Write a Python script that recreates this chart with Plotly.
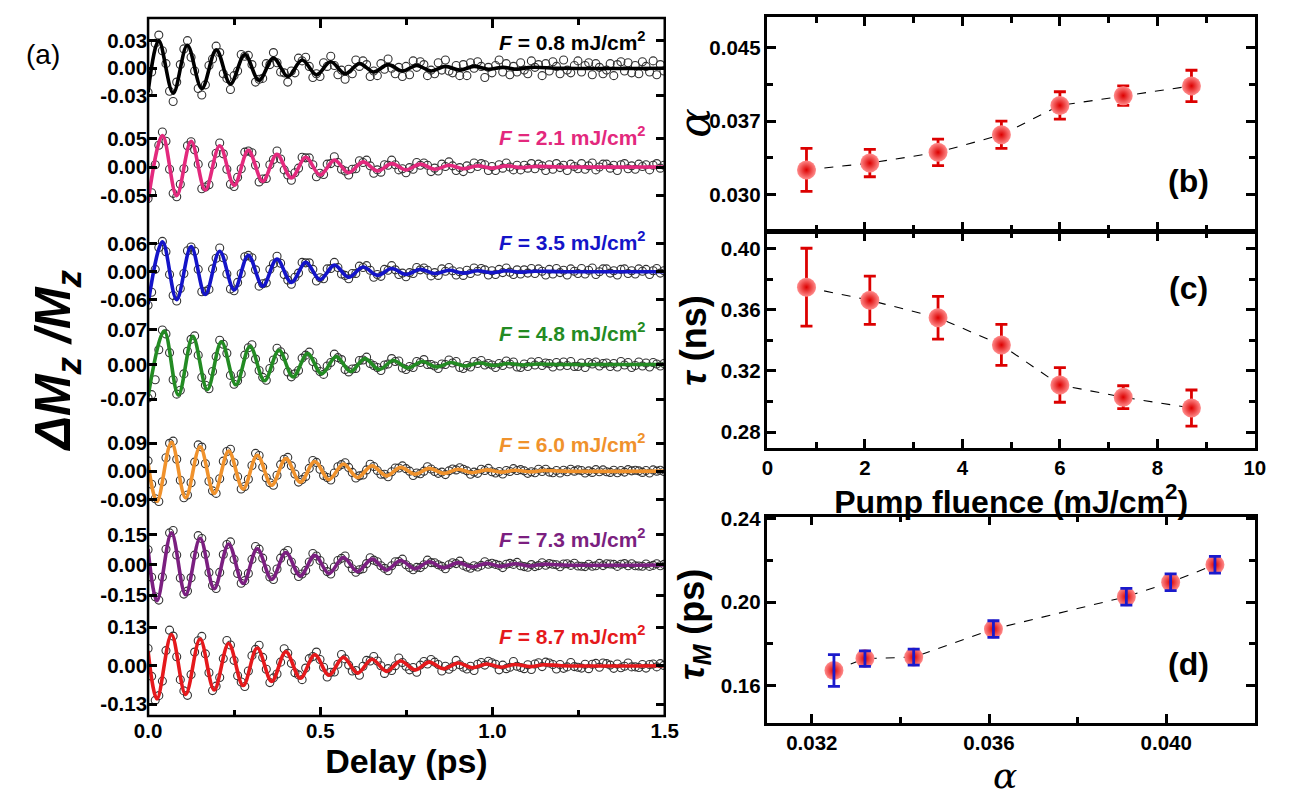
import plotly.graph_objects as go

W, H = 1306, 801
FONT = "Liberation Sans, Arial, sans-serif"

# ---------------- panel (a): time-resolved dMz/Mz traces ----------------
fluence_labels = ["0.8", "2.1", "3.5", "4.8", "6.0", "7.3", "8.7"]
trace_colors = ["#000000", "#e3297d", "#1414c8", "#238b23", "#f0922c", "#7b1f80", "#e5191c"]
tick_steps = [0.03, 0.05, 0.06, 0.07, 0.09, 0.15, 0.13]

# measured delays (ps), constant stage step
delay_step = 0.0104
delay = [round(i * delay_step, 4) for i in range(145)]

dmz_08 = [
    -.026, -.004, .027, .036, .019, .005, -.025, -.036,
    -.015, .004, .021, .030, .012, -.003, -.022, -.029,
    -.018, .003, .010, .024, .017, -.006, -.011, -.023,
    -.008, -.003, .015, .013, .014, .004, -.015, -.012,
    -.011, .005, .004, .017, .006, -.004, -.005, -.015,
    -.003, -.005, .011, .008, .012, .002, -.010, -.006,
    -.009, .006, .002, .013, .003, -.007, -.002, -.012,
    -.001, -.006, .009, .002, .008, .004, -.009, -.003,
    -.008, .005, -.001, .010, .000, -.006, .001, -.009,
    .002, -.007, .008, .001, .007, .004, -.008, -.002,
    -.006, .006, -.002, .009, -.003, -.005, .003, -.008,
    .004, -.008, .006, .000, .007, .002, -.010, .001,
    -.005, .003, .009, -.004, .005, -.007, .002, -.004,
    .006, -.002, -.006, .008, .001, .004, -.008, .005,
    -.003, .007, .002, -.006, .009, -.002, -.005, .003,
    .008, -.004, .003, .006, -.007, .005, .001, -.006,
    -.002, .005, -.008, .004, .007, -.003, .006, -.005,
    .003, -.006, .007, .002, -.004, .008, -.007, .004,
    -.003]

dmz_21 = [
    -.055, -.045, .004, .038, .061, .045, -.004, -.046,
    -.052, -.030, -.003, .037, .044, .030, .005, -.038,
    -.035, -.031, .004, .024, .042, .023, -.004, -.030,
    -.034, -.018, -.003, .026, .028, .025, .003, -.026,
    -.021, -.020, .004, .013, .028, .014, -.005, -.014,
    -.023, -.010, -.002, .017, .016, .016, .004, -.017,
    -.011, -.013, .005, .006, .018, .008, -.004, -.007,
    -.014, -.004, -.003, .011, .008, .012, .002, -.011,
    -.005, -.009, .004, .003, .012, .004, -.005, -.003,
    -.010, -.001, -.004, .008, .003, .007, .003, -.008,
    -.002, -.007, .005, .001, .009, .002, -.006, -.001,
    -.008, .002, -.003, .007, .001, .006, .004, -.006,
    .001, -.006, .004, -.002, .007, .000, -.005, .003,
    -.005, .003, -.002, .006, -.003, .005, .002, -.006,
    .004, -.004, .006, -.001, .003, -.006, .005, .001,
    -.003, .006, -.004, .002, .007, -.005, .000, .005,
    .005, -.002, .003, -.006, .004, .006, -.003, .002,
    -.004, .005, .001, .004, -.005, .003, .006, -.002,
    .003]

dmz_35 = [
    -.072, -.044, .005, .052, .065, .043, -.006, -.051,
    -.063, -.036, -.004, .045, .053, .044, .005, -.043,
    -.042, -.038, .006, .029, .051, .030, -.005, -.037,
    -.041, -.023, -.004, .032, .035, .030, .004, -.031,
    -.026, -.024, .005, .017, .033, .018, -.006, -.018,
    -.027, -.012, -.003, .020, .019, .019, .005, -.020,
    -.013, -.015, .006, .007, .020, .009, -.005, -.008,
    -.015, -.004, -.004, .012, .009, .013, .003, -.012,
    -.006, -.010, .005, .003, .013, .004, -.006, -.003,
    -.011, -.002, -.004, .009, .004, .008, .003, -.009,
    -.002, -.008, .006, .001, .009, .002, -.007, .000,
    -.008, .003, -.004, .008, .001, .007, .004, -.007,
    .002, -.006, .005, -.002, .008, -.001, -.006, .004,
    -.005, .004, -.003, .007, -.004, .006, .001, -.007,
    .005, -.005, .007, -.002, .003, -.007, .006, .001,
    -.004, .007, -.005, .003, .008, -.006, .000, .006,
    .006, -.003, .002, -.007, .005, .006, -.004, .002,
    -.005, .006, .001, .005, -.006, .002, .007, -.003,
    .002]

dmz_48 = [
    -.068, -.061, -.031, .030, .070, .062, .024, -.031,
    -.060, -.052, -.019, .027, .051, .058, .019, -.026,
    -.042, -.049, -.014, .016, .049, .041, .023, -.022,
    -.040, -.033, -.019, .019, .034, .040, .011, -.012,
    -.026, -.032, -.008, .009, .033, .026, .016, -.015,
    -.025, -.019, -.012, .013, .019, .025, .006, -.006,
    -.014, -.020, -.003, .004, .021, .014, .010, -.010,
    -.015, -.009, -.008, .008, .009, .015, .002, -.002,
    -.006, -.012, -.001, .001, .012, .006, .007, -.007,
    -.010, -.004, -.006, .006, .004, .010, .000, .000,
    -.003, -.008, .001, .000, .009, .003, .006, -.006,
    -.008, -.002, -.005, .006, .002, .008, -.001, .002,
    -.001, -.006, .002, -.002, .007, .001, .005, -.005,
    -.006, .001, -.004, .005, -.001, .006, -.002, .003,
    .002, -.005, .004, -.003, .005, -.002, .006, -.004,
    -.004, .003, -.006, .004, .001, .005, -.003, .002,
    .003, -.004, .002, -.005, .006, -.001, .004, -.006,
    -.002, .005, -.003, .003, -.005, .004, .001, -.003,
    .002]

dmz_60 = [
    .033, -.042, -.088, -.097, -.034, .043, .089, .096,
    .038, -.029, -.085, -.076, -.037, .029, .084, .077,
    .024, -.032, -.063, -.071, -.024, .032, .063, .070,
    .027, -.018, -.057, -.049, -.026, .018, .057, .050,
    .013, -.021, -.037, -.045, -.013, .021, .038, .044,
    .017, -.009, -.035, -.027, -.017, .009, .034, .028,
    .006, -.014, -.020, -.028, -.006, .014, .021, .027,
    .012, -.004, -.022, -.015, -.012, .004, .022, .015,
    .002, -.010, -.010, -.018, -.002, .010, .010, .017,
    .008, .000, -.014, -.006, -.008, .000, .014, .007,
    -.001, -.007, -.003, -.011, .001, .007, .004, .011,
    .006, .001, -.010, -.003, -.007, .006, .002, .009,
    -.002, -.006, -.001, -.009, .002, -.001, .008, .002,
    .005, .001, -.007, -.002, -.005, .006, -.001, .006,
    -.003, -.005, .002, -.006, .003, -.002, .006, .000,
    .004, .002, -.006, .001, -.004, .005, -.002, .004,
    -.002, -.004, .003, -.005, .002, -.003, .005, .001,
    .003, .001, -.004, .002, -.006, .004, .000, .003,
    -.001]

dmz_73 = [
    .076, -.061, -.158, -.175, -.060, .078, .160, .172,
    .050, -.065, -.145, -.130, -.064, .049, .146, .132,
    .053, -.038, -.102, -.117, -.037, .052, .102, .115,
    .028, -.042, -.091, -.078, -.042, .028, .092, .079,
    .034, -.020, -.060, -.072, -.020, .034, .059, .072,
    .015, -.027, -.057, -.045, -.027, .015, .057, .045,
    .022, -.010, -.033, -.045, -.010, .022, .033, .045,
    .007, -.019, -.036, -.024, -.019, .007, .036, .024,
    .016, -.004, -.017, -.029, -.004, .016, .017, .029,
    .001, -.013, -.024, -.012, -.013, .001, .024, .012,
    .011, .001, -.007, -.019, .001, .011, .007, .019,
    -.002, -.010, -.016, -.004, -.010, -.002, .016, .004,
    .009, .003, -.002, -.013, .004, .008, .003, .013,
    -.004, -.008, -.011, .002, -.008, -.003, .011, -.001,
    .007, .004, .001, -.009, .005, .006, -.002, .009,
    -.005, -.006, -.008, .004, -.006, -.004, .008, -.003,
    .006, .005, .003, -.007, .004, .007, -.004, .006,
    -.004, -.005, -.006, .005, -.007, -.002, .006, -.004,
    .003]

dmz_87 = [
    .058, -.036, -.117, -.101, -.052, .051, .120, .100,
    .030, -.047, -.085, -.100, -.030, .046, .084, .099,
    .040, -.024, -.084, -.069, -.040, .024, .085, .070,
    .018, -.034, -.055, -.070, -.018, .034, .055, .069,
    .028, -.012, -.057, -.041, -.028, .012, .057, .042,
    .008, -.024, -.031, -.047, -.008, .024, .031, .046,
    .021, -.005, -.038, -.022, -.021, .005, .038, .023,
    .002, -.018, -.016, -.032, -.002, .018, .016, .031,
    .016, .000, -.026, -.010, -.016, .000, .026, .011,
    -.002, -.014, -.006, -.022, .002, .014, .006, .021,
    .012, .004, -.018, -.002, -.012, -.004, .018, .003,
    -.005, -.011, -.002, -.016, .005, .011, .002, .015,
    .010, .005, -.014, .002, -.010, -.005, .014, -.002,
    -.006, -.010, .003, -.013, .006, .010, -.003, .012,
    .009, .004, -.011, .004, -.009, -.004, .011, -.003,
    -.005, -.008, .005, -.010, .005, .008, -.005, .009,
    .007, .002, -.009, .006, -.007, -.002, .009, -.004,
    -.004, -.006, .004, -.008, .004, .006, -.004, .007,
    .001]

# damped-precession fits, sampled at their turning points (ps, dMz/Mz)
fit_t_08 = [0, .031, .073, .114, .156, .198, .239, .281, .322, .364, .406, .447, .489, .530,
            .572, .614, .655, .697, .738, .780, .822, .863, .905, .946, .988, 1.030, 1.071,
            1.113, 1.2, 1.5]
fit_v_08 = [-.026, .030, -.027, .025, -.022, .020, -.017, .015, -.013, .011, -.009, .009,
            -.007, .007, -.006, .005, -.004, .004, -.003, .003, -.003, .002, -.002, .002,
            -.001, .001, -.001, .001, 0, 0]
fit_t_mid = [0, .042, .083, .125, .166, .208, .250, .291, .333, .374, .416, .458, .499, .541,
             .582, .624, .666, .707, .749, .790, .832, .874, .915, .957, .998, 1.040, 1.082,
             1.123, 1.2, 1.5]
fit_v_21 = [-.060, .055, -.050, .045, -.040, .037, -.032, .029, -.025, .022, -.019, .017,
            -.014, .012, -.010, .009, -.007, .006, -.005, .005, -.004, .003, -.003, .002,
            -.002, .002, -.001, .001, 0, 0]
fit_v_35 = [-.070, .064, -.060, .054, -.049, .044, -.039, .035, -.031, .027, -.023, .020,
            -.017, .014, -.012, .010, -.008, .007, -.006, .005, -.004, .003, -.003, .002,
            -.002, .002, -.001, .001, 0, 0]
fit_t_48 = [0, .047, .088, .130, .172, .213, .255, .296, .338, .380, .421, .463, .504, .546,
            .588, .629, .671, .712, .754, .796, .837, .879, .920, .962, 1.004, 1.045, 1.087,
            1.128, 1.2, 1.5]
fit_v_48 = [-.065, .068, -.062, .057, -.051, .046, -.041, .037, -.033, .029, -.025, .022,
            -.019, .016, -.014, .012, -.010, .008, -.007, .006, -.005, .004, -.003, .003,
            -.002, .002, -.001, .001, 0, 0]
fit_t_hi = [0, .026, .068, .109, .151, .192, .234, .276, .317, .359, .400, .442, .484, .525,
            .567, .608, .650, .692, .733, .775, .816, .858, .900, .941, .983, 1.024, 1.066,
            1.108, 1.149, 1.2, 1.5]
fit_v_60 = [.025, -.097, .092, -.085, .078, -.071, .064, -.057, .051, -.045, .040, -.035,
            .031, -.027, .023, -.020, .017, -.015, .012, -.010, .009, -.007, .006, -.005,
            .004, -.003, .003, -.002, .002, 0, 0]
fit_v_73 = [.080, -.178, .160, -.148, .133, -.118, .104, -.092, .081, -.071, .062, -.055,
            .048, -.042, .037, -.033, .029, -.025, .022, -.019, .016, -.014, .012, -.010,
            .008, -.007, .006, -.005, .004, 0, 0]
fit_v_87 = [.050, -.112, .105, -.097, .090, -.082, .075, -.067, .060, -.053, .047, -.042,
            .037, -.032, .028, -.025, .022, -.019, .016, -.014, .012, -.010, .009, -.007,
            .006, -.005, .004, -.003, .003, 0, 0]

data_sets = [dmz_08, dmz_21, dmz_35, dmz_48, dmz_60, dmz_73, dmz_87]
fit_sets = [(fit_t_08, fit_v_08), (fit_t_mid, fit_v_21), (fit_t_mid, fit_v_35),
            (fit_t_48, fit_v_48), (fit_t_hi, fit_v_60), (fit_t_hi, fit_v_73),
            (fit_t_hi, fit_v_87)]

# ---------------- panels (b)-(d) ----------------
pump_fluence = [0.8, 2.1, 3.5, 4.8, 6.0, 7.3, 8.7]
alpha = [0.0325, 0.0332, 0.0343, 0.0361, 0.0391, 0.0401, 0.0411]
alpha_err = [0.0022, 0.0014, 0.00135, 0.0014, 0.0014, 0.0010, 0.0016]
tau = [0.3748, 0.3662, 0.3548, 0.3370, 0.3108, 0.3028, 0.2957]
tau_err = [0.0255, 0.0158, 0.0140, 0.0134, 0.0113, 0.0075, 0.0118]
tau_m = [0.1673, 0.1730, 0.1737, 0.1871, 0.2026, 0.2095, 0.2179]
tau_m_err = [0.0076, 0.0037, 0.0038, 0.0040, 0.0040, 0.0040, 0.0040]

# ---------------- layout geometry (pixels) ----------------
A_LEFT, A_RIGHT, A_TOP, A_BOTTOM = 137, 665, 8, 715
# per strip: top, bottom, pixel of zero line, pixel offset of +/- tick
strips = [(8, 108, 59, 28), (108, 210, 159, 29), (210, 306, 265, 28.3),
          (306, 416, 359, 35), (416, 512, 467, 28.5), (512, 606, 562, 30.5),
          (606, 715, 664, 39)]
label_rows = [31, 128, 234, 326, 438, 535, 633]
R_LEFT, R_RIGHT = 770, 1268
B_TOP, B_BOT = 7.3, 223.3
C_TOP, C_BOT = 225, 443.3
D_TOP, D_BOT = 513, 722


def px(x):
    return x / W


def py(y):
    return 1 - y / H


tick_font = dict(family=FONT, size=20.5, color="black", weight="bold")
LW = 2.5

fig = go.Figure()
layout = dict(width=W, height=H, margin=dict(l=0, r=0, t=0, b=0),
              paper_bgcolor="white", plot_bgcolor="rgba(0,0,0,0)", showlegend=False,
              font=dict(family=FONT, color="black"))

# bottom delay axis (anchored to lowest strip)
layout["xaxis"] = dict(domain=[px(A_LEFT), px(A_RIGHT)], range=[0, 1.5], anchor="y7",
                       tickvals=[0, 0.5, 1.0, 1.5], ticktext=["0.0", "0.5", "1.0", "1.5"],
                       ticks="inside", ticklen=9, tickwidth=LW, tickcolor="black",
                       minor=dict(tickvals=[0.25, 0.75, 1.25], ticks="inside", ticklen=6,
                                  tickwidth=LW, tickcolor="black"),
                       showline=False, showgrid=False, zeroline=False, tickfont=tick_font,
                       title=dict(text="<b>Delay (ps)</b>", font=dict(size=34, family=FONT),
                                  standoff=4))
# top delay ticks
layout["xaxis5"] = dict(overlaying="x", side="top", anchor="free", position=py(A_TOP),
                        range=[0, 1.5], tickvals=[0, 0.5, 1.0, 1.5], showticklabels=False,
                        ticks="inside", ticklen=9, tickwidth=LW, tickcolor="black",
                        minor=dict(tickvals=[0.25, 0.75, 1.25], ticks="inside", ticklen=6,
                                   tickwidth=LW, tickcolor="black"),
                        showline=False, showgrid=False, zeroline=False)
fig.add_trace(go.Scatter(x=[0], y=[0], xaxis="x5", yaxis="y", mode="markers",
                         marker=dict(opacity=0), hoverinfo="skip"))

for i, (top, bot, zero, tpx) in enumerate(strips):
    step = tick_steps[i]
    pxu = tpx / step
    yname = "yaxis" if i == 0 else f"yaxis{i + 1}"
    fmt = ["%.2f" % -step, "0.00", "%.2f" % step]
    layout[yname] = dict(domain=[py(bot), py(top)],
                         range=[(zero - bot) / pxu, (zero - top) / pxu],
                         anchor="x", tickvals=[-step, 0, step], ticktext=fmt,
                         ticks="inside", ticklen=9, tickwidth=LW, tickcolor="black",
                         mirror="ticks", showline=False, showgrid=False, zeroline=False,
                         tickfont=tick_font)
    yref = "y" if i == 0 else f"y{i + 1}"
    fig.add_trace(go.Scatter(x=delay, y=data_sets[i], xaxis="x", yaxis=yref, mode="markers",
                             marker=dict(symbol="circle-open", size=8, color="#333333",
                                         line=dict(width=1.1)),
                             hoverinfo="skip"))
    ft, fv = fit_sets[i]
    fig.add_trace(go.Scatter(x=ft, y=fv, xaxis="x", yaxis=yref, mode="lines",
                             line=dict(color=trace_colors[i], width=3.6, shape="spline",
                                       smoothing=1.0),
                             hoverinfo="skip"))


# right-hand axes
def frame_axis(**kw):
    base = dict(ticks="inside", ticklen=9, tickwidth=LW, tickcolor="black", showline=True,
                linewidth=LW, linecolor="black", mirror="ticks", showgrid=False,
                zeroline=False, tickfont=tick_font)
    base.update(kw)
    return base


def minor(vals):
    return dict(tickvals=vals, ticks="inside", ticklen=6, tickwidth=LW, tickcolor="black")


layout["xaxis2"] = frame_axis(domain=[px(R_LEFT), px(R_RIGHT)], range=[0, 10], anchor="y8",
                              tickvals=[0, 2, 4, 6, 8, 10], showticklabels=False,
                              minor=minor([1, 3, 5, 7, 9]))
layout["yaxis8"] = frame_axis(domain=[py(B_BOT), py(B_TOP)], range=[0.0263, 0.04813],
                              anchor="x2", tickvals=[0.030, 0.0375, 0.045],
                              ticktext=["0.030", "0.037", "0.045"],
                              minor=minor([0.02625, 0.03375, 0.04125, 0.04875]))
layout["xaxis3"] = frame_axis(domain=[px(R_LEFT), px(R_RIGHT)], range=[0, 10], anchor="y9",
                              tickvals=[0, 2, 4, 6, 8, 10], minor=minor([1, 3, 5, 7, 9]),
                              title=dict(text="<b>Pump fluence (mJ/cm<sup>2</sup>)</b>",
                                         font=dict(size=32, family=FONT), standoff=2))
layout["yaxis9"] = frame_axis(domain=[py(C_BOT), py(C_TOP)], range=[0.2697, 0.4108],
                              anchor="x3", tickvals=[0.28, 0.32, 0.36, 0.40],
                              ticktext=["0.28", "0.32", "0.36", "0.40"],
                              minor=minor([0.30, 0.34, 0.38]))
layout["xaxis4"] = frame_axis(domain=[px(R_LEFT), px(R_RIGHT)], range=[0.031, 0.042],
                              anchor="y10", tickvals=[0.032, 0.036, 0.040],
                              ticktext=["0.032", "0.036", "0.040"],
                              minor=minor([0.034, 0.038]))
layout["yaxis10"] = frame_axis(domain=[py(D_BOT), py(D_TOP)], range=[0.1422, 0.2409],
                               anchor="x4", tickvals=[0.16, 0.20, 0.24],
                               ticktext=["0.16", "0.20", "0.24"],
                               minor=minor([0.18, 0.22]))

ball = dict(size=19, color="#ff8c8c", gradient=dict(type="radial", color="#dc0000"),
            line=dict(width=0))


def fluence_panel(xv, yv, err, xa, ya, err_color, err_on_top):
    fig.add_trace(go.Scatter(x=xv, y=yv, xaxis=xa, yaxis=ya, mode="lines",
                             line=dict(color="black", width=1.1, dash="dash"),
                             hoverinfo="skip"))
    ebar = dict(type="data", array=err, visible=True, color=err_color, thickness=2.8,
                width=6)
    if err_on_top:
        fig.add_trace(go.Scatter(x=xv, y=yv, xaxis=xa, yaxis=ya, mode="markers",
                                 marker=ball, hoverinfo="skip"))
        fig.add_trace(go.Scatter(x=xv, y=yv, xaxis=xa, yaxis=ya, mode="markers",
                                 marker=dict(size=1, color="rgba(0,0,0,0)"),
                                 error_y=ebar, hoverinfo="skip"))
    else:
        fig.add_trace(go.Scatter(x=xv, y=yv, xaxis=xa, yaxis=ya, mode="markers",
                                 marker=ball, error_y=ebar, hoverinfo="skip"))


fluence_panel(pump_fluence, alpha, alpha_err, "x2", "y8", "#dc0000", False)
fluence_panel(pump_fluence, tau, tau_err, "x3", "y9", "#dc0000", False)
fluence_panel(alpha, tau_m, tau_m_err, "x4", "y10", "#1a1acc", True)

# frame around panel (a)
shapes = [dict(type="rect", xref="paper", yref="paper", x0=px(A_LEFT), x1=px(A_RIGHT),
               y0=py(A_BOTTOM), y1=py(A_TOP), line=dict(color="black", width=LW))]

ann = []
for i in range(len(strips)):
    ann.append(dict(x=px(648), y=py(label_rows[i]), xanchor="right", yanchor="middle",
                    text="<b><i>F</i> = %s mJ/cm<sup>2</sup></b>" % fluence_labels[i],
                    font=dict(family=FONT, size=21, color=trace_colors[i])))

ann += [
    dict(x=px(30), y=py(45), text="(a)", font=dict(size=28, family=FONT)),
    dict(x=px(1200), y=py(173), text="(b)", font=dict(size=32, family=FONT, weight="bold")),
    dict(x=px(1200), y=py(282), text="(c)", font=dict(size=32, family=FONT, weight="bold")),
    dict(x=px(1200), y=py(662), text="(d)", font=dict(size=32, family=FONT, weight="bold")),
    dict(x=px(44), y=py(355), textangle=-90,
         text="<b><i>\u0394M<sub>z</sub> /M<sub>z</sub></i></b>",
         font=dict(size=50, family=FONT)),
    dict(x=px(695), y=py(114), textangle=-90, text="<i>\u03b1</i>",
         font=dict(size=44, family="DejaVu Serif, serif")),
    dict(x=px(695), y=py(335), textangle=-90, text="<b><i>\u03c4</i> (ns)</b>",
         font=dict(size=36, family=FONT)),
    dict(x=px(695), y=py(622), textangle=-90,
         text="<b><i>\u03c4<sub>M</sub></i> (ps)</b>", font=dict(size=36, family=FONT)),
    dict(x=px(1013), y=py(775), text="<i>\u03b1</i>",
         font=dict(size=36, family="DejaVu Serif, serif")),
]
for a in ann:
    a.setdefault("xref", "paper")
    a.setdefault("yref", "paper")
    a.setdefault("showarrow", False)
    a.setdefault("xanchor", "center")
    a.setdefault("yanchor", "middle")

layout["shapes"] = shapes
layout["annotations"] = ann
fig.update_layout(**layout)
fig.write_html("out.html")
